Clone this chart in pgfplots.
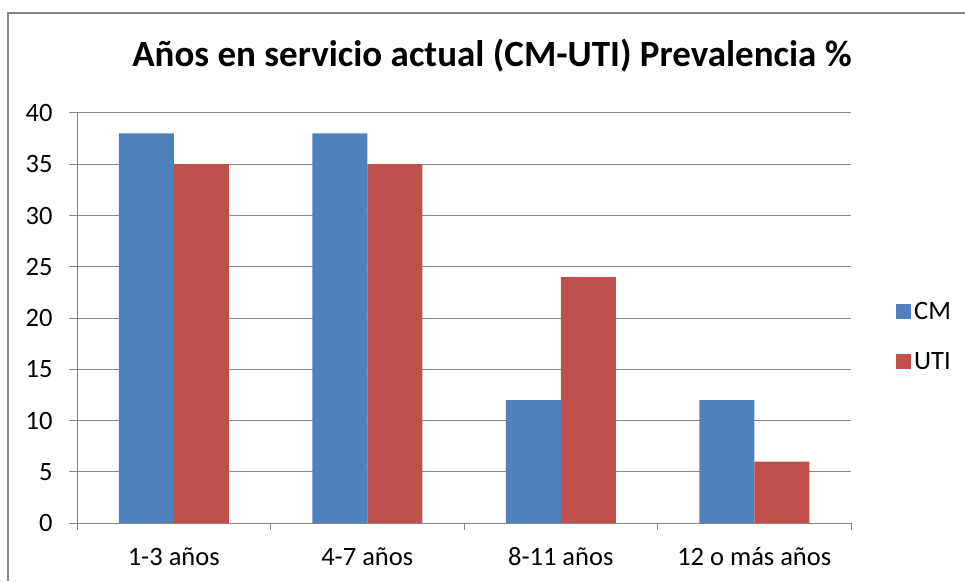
\documentclass[border=0pt]{standalone}
\usepackage{pgfplots}
\pgfplotsset{compat=1.18}
\usepackage{fontspec}
\setmainfont{Carlito}
\definecolor{cmblue}{HTML}{4F81BD}
\definecolor{utired}{HTML}{C0504D}
\definecolor{gridgray}{HTML}{868686}
\begin{document}
\begin{tikzpicture}[x=1pt,y=1pt]
\useasboundingbox (0,0) rectangle (965,581);
\draw[gridgray, line width=1.2pt] (8,0) -- (8,568) -- (965,568);
\node[anchor=base, font=\fontsize{37}{42}\selectfont\bfseries] at (492,514) {Años en servicio actual (CM-UTI) Prevalencia \%};
\begin{axis}[
  at={(77pt,58pt)}, anchor=south west,
  scale only axis, width=774pt, height=410pt,
  ybar=0pt, bar width=55pt,
  xmin=-0.5, xmax=3.5, ymin=0, ymax=40,
  xtick={0,1,2,3},
  xticklabels={1-3 años, 4-7 años, 8-11 años, 12 o más años},
  minor xtick={-0.5,0.5,1.5,2.5,3.5},
  ytick={0,5,...,40},
  axis x line*=bottom, axis y line*=left,
  axis line style={gridgray, line width=1pt},
  tick align=outside,
  major tick length=8pt, minor tick length=7pt,
  every tick/.style={gridgray, line width=1pt},
  x tick style={draw=none},
  minor x tick style={draw=gridgray, line width=1pt},
  ymajorgrids, grid style={gridgray, line width=1pt},
  tick label style={font=\fontsize{26.5}{31}\selectfont},
  /pgf/number format/assume math mode=true,
  xticklabel style={yshift=-13pt},
  yticklabel style={xshift=-13pt},
  legend style={at={(1.0,0.5)}, anchor=west, draw=none, fill=none,
    font=\fontsize{26.5}{31}\selectfont, xshift=45pt, yshift=-18.5pt,
    row sep=26pt, inner sep=0pt, nodes={inner sep=3pt}},
  legend image code/.code={\fill[#1] (-4pt,-7.5pt) rectangle (11pt,7.5pt);},
  legend cell align=left,
]
\addplot[fill=cmblue, draw=none] coordinates {(0,38) (1,38) (2,12) (3,12)};
\addplot[fill=utired, draw=none] coordinates {(0,35) (1,35) (2,24) (3,6)};
\legend{CM, UTI}
\end{axis}
\end{tikzpicture}
\end{document}
